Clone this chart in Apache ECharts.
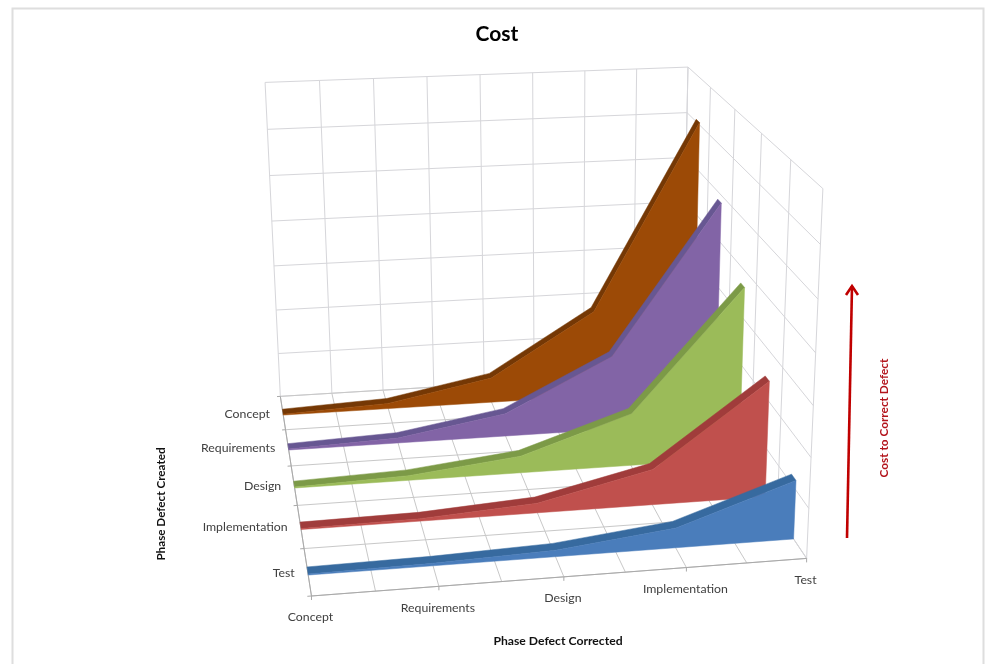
<!DOCTYPE html>
<html>
<head>
<meta charset="utf-8">
<style>html,body{margin:0;padding:0;background:#fff}#chart{width:987px;height:664px}</style>
<script src="https://cdn.jsdelivr.net/npm/echarts@6/dist/echarts.min.js"></script>
</head>
<body>
<div id="chart"></div>
<script>
// Phases on both horizontal axes
const correctedPhases = ['Concept', 'Requirements', 'Design', 'Implementation', 'Test'];
const createdPhases = ['Concept', 'Requirements', 'Design', 'Implementation', 'Test'];

// Relative cost to correct a defect, one row per phase in which it was created
const costConcept = [0.02, 0.12, 0.56, 1.95, 6.05];
const costRequirements = [0.02, 0.11, 0.5, 1.63, 4.84];
const costDesign = [0.02, 0.1, 0.36, 1.12, 3.66];
const costImplementation = [0.02, 0.05, 0.2, 0.74, 2.41];
const costTest = [0.02, 0.05, 0.13, 0.4, 1.19];

const costRows = [costConcept, costRequirements, costDesign, costImplementation, costTest];
const valueMax = 7;
const valueSteps = 7;
const xSubdivisions = 2;

const faceColors = ['#9c4a06', '#8264a6', '#9bbb59', '#c0504d', '#4a7dbb'];
const ribbonColors = ['#753805', '#675792', '#7c9a47', '#a03c3b', '#376a9f'];

// Calibration of the box: unit-cube corner -> canvas point (x along corrected, d along created, v up)
const boxCorners = [
  [0, 0, 0, 280, 395], [1, 0, 0, 682, 373], [0, 1, 0, 312, 597], [1, 1, 0, 806, 558],
  [0, 0, 1, 265, 83], [1, 0, 1, 688, 67], [1, 1, 1, 823, 188]
];

// Least-squares perspective camera through the calibration corners
function solveCamera(points) {
  const n = 11;
  const A = Array.from({length: n}, () => new Array(n + 1).fill(0));
  const add = (row, rhs) => {
    for (let i = 0; i < n; i++) {
      for (let j = 0; j < n; j++) A[i][j] += row[i] * row[j];
      A[i][n] += row[i] * rhs;
    }
  };
  points.forEach(([x, d, v, u, w]) => {
    add([x, d, v, 1, 0, 0, 0, 0, -u * x, -u * d, -u * v], u);
    add([0, 0, 0, 0, x, d, v, 1, -w * x, -w * d, -w * v], w);
  });
  for (let c = 0; c < n; c++) {
    let pivot = c;
    for (let r = c + 1; r < n; r++) if (Math.abs(A[r][c]) > Math.abs(A[pivot][c])) pivot = r;
    [A[c], A[pivot]] = [A[pivot], A[c]];
    for (let r = 0; r < n; r++) {
      if (r === c) continue;
      const f = A[r][c] / A[c][c];
      for (let k = c; k <= n; k++) A[r][k] -= f * A[c][k];
    }
  }
  return A.map((row, i) => row[n] / row[i]);
}
const cam = solveCamera(boxCorners);
function project(x, d, v) {
  const h = cam[8] * x + cam[9] * d + cam[10] * v + 1;
  return [(cam[0] * x + cam[1] * d + cam[2] * v + cam[3]) / h,
          (cam[4] * x + cam[5] * d + cam[6] * v + cam[7]) / h];
}

const xOf = i => i / (correctedPhases.length - 1);
const dOf = (band, f) => (band + f) / createdPhases.length;
const vOf = value => value / valueMax;

const gridLine = (a, b, color, width) => ({
  type: 'line',
  shape: {x1: a[0], y1: a[1], x2: b[0], y2: b[1]},
  style: {stroke: color, lineWidth: width === undefined ? 1 : width}
});

// Walls, floor, axis lines, ticks and tick labels of the box
function renderFrame() {
  const kids = [];
  const wall = '#d6d6da';
  const edge = '#a9a9a9';
  const xSpans = (correctedPhases.length - 1) * xSubdivisions;
  const dSpans = createdPhases.length;
  for (let i = 0; i <= xSpans; i++) {
    const x = i / xSpans;
    kids.push(gridLine(project(x, 0, 0), project(x, 0, 1), wall));
    kids.push(gridLine(project(x, 0, 0), project(x, 1, 0), '#c8c8c8'));
  }
  for (let j = 0; j <= valueSteps; j++) {
    const v = j / valueSteps;
    kids.push(gridLine(project(0, 0, v), project(1, 0, v), wall));
    kids.push(gridLine(project(1, 0, v), project(1, 1, v), wall));
  }
  for (let k = 0; k <= dSpans; k++) {
    const d = k / dSpans;
    kids.push(gridLine(project(1, d, 0), project(1, d, 1), wall));
    kids.push(gridLine(project(0, d, 0), project(1, d, 0), '#c8c8c8'));
    kids.push(gridLine(project(0, d, 0), project(-0.008, d, 0), edge));
  }
  kids.push(gridLine(project(0, 0, 0), project(0, 1, 0), edge));
  kids.push(gridLine(project(0, 1, 0), project(1, 1, 0), edge));
  correctedPhases.forEach((name, i) => {
    const p = project(xOf(i), 1, 0);
    kids.push(gridLine(p, [p[0], p[1] + 4], edge));
    kids.push({
      type: 'text',
      style: {text: name, x: p[0] - 1, y: p[1] + 21.5, align: 'center', verticalAlign: 'middle',
              font: '12.3px Lato', fill: '#404040'}
    });
  });
  createdPhases.forEach((name, k) => {
    const p = project(0, dOf(k, 0.5), 0);
    kids.push({
      type: 'text',
      style: {text: name, x: p[0] - 13, y: p[1] + 1, align: 'right', verticalAlign: 'middle',
              font: '12.3px Lato', fill: '#404040'}
    });
  });
  return {type: 'group', children: kids};
}

const ribbonBack = 0.42;
const ribbonFront = 0.57;

// One phase-created area: thin top ribbon plus the front face down to the floor
function areaSeries(band) {
  const values = costRows[band];
  const color = faceColors[band];
  const dark = ribbonColors[band];
  return {
    type: 'custom',
    name: createdPhases[band],
    coordinateSystem: 'none',
    silent: true,
    z: 5 + band,
    data: values.map((v, i) => [i, v]),
    renderItem(params, api) {
      if (params.dataIndex !== 0) return null;
      const dB = dOf(band, ribbonBack);
      const dF = dOf(band, ribbonFront);
      const topF = values.map((v, i) => project(xOf(i), dF, vOf(v)));
      const topB = values.map((v, i) => project(xOf(i), dB, vOf(v)));
      const floorF = [project(xOf(values.length - 1), dF, 0), project(0, dF, 0)];
      return {
        type: 'group',
        children: [
          {type: 'polygon', shape: {points: topB.concat(topF.slice().reverse())},
           style: {fill: dark, stroke: dark, lineWidth: 0.5}},
          {type: 'polygon', shape: {points: topF.concat(floorF)},
           style: {fill: color, stroke: color, lineWidth: 0.5}}
        ]
      };
    }
  };
}

const chart = echarts.init(document.getElementById('chart'), null, {renderer: 'canvas'});
chart.setOption({
  animation: false,
  backgroundColor: '#ffffff',
  title: {
    text: 'Cost',
    left: 492,
    top: 19,
    textAlign: 'center',
    textStyle: {fontFamily: 'Lato', fontSize: 21, fontWeight: 'bold', color: '#000'}
  },
  graphic: [
    {type: 'rect', z: 0, shape: {x: 12.5, y: 8.5, width: 971, height: 670},
     style: {fill: '#fff', stroke: '#dedede', lineWidth: 2}},
    {type: 'text', z: 20, x: 558, y: 641,
     style: {text: 'Phase Defect Corrected', align: 'center', verticalAlign: 'middle',
             font: 'bold 12.2px Lato', fill: '#111'}},
    {type: 'text', z: 20, x: 161, y: 504, rotation: Math.PI / 2,
     style: {text: 'Phase Defect Created', align: 'center', verticalAlign: 'middle',
             font: 'bold 11.7px Lato', fill: '#111'}},
    {type: 'text', z: 20, x: 884, y: 418, rotation: Math.PI / 2,
     style: {text: 'Cost to Correct Defect', align: 'center', verticalAlign: 'middle',
             font: 'bold 11.8px Lato', fill: '#b3141c'}},
    {type: 'polyline', z: 20, shape: {points: [[847, 538], [852, 286]]},
     style: {stroke: '#c00000', lineWidth: 2.6, fill: 'none'}},
    {type: 'polyline', z: 20, shape: {points: [[846, 295], [852, 286], [858, 295]]},
     style: {stroke: '#c00000', lineWidth: 2.6, fill: 'none'}}
  ],
  series: [
    {
      type: 'custom',
      name: 'frame',
      coordinateSystem: 'none',
      silent: true,
      z: 2,
      data: [0],
      renderItem: renderFrame
    }
  ].concat(costRows.map((_, band) => areaSeries(band)))
});
</script>
</body>
</html>
